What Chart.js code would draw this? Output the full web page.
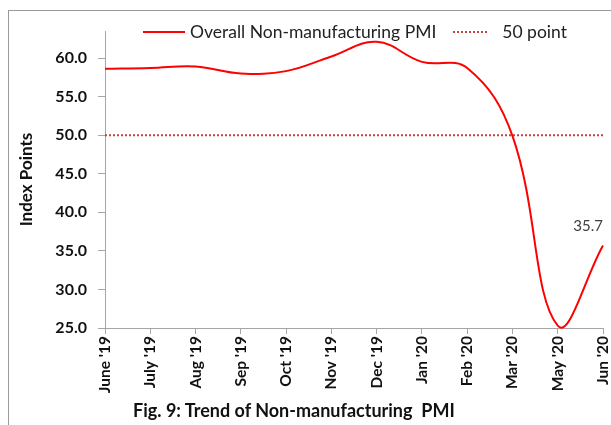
<!DOCTYPE html>
<html>
<head>
<meta charset="utf-8">
<script src="https://cdn.jsdelivr.net/npm/chart.js@4/dist/chart.umd.min.js"></script>
<style>
  body { margin: 0; background: #fff; font-family: Lato, "Open Sans", sans-serif; }
  #wrap { position: relative; width: 611px; height: 425px; overflow: hidden; }
  #frame { position: absolute; left: 8px; top: 10px; right: -10px; bottom: -10px;
           border-left: 1.5px solid #9a9a9a; border-top: 1.5px solid #9a9a9a; }
  canvas { position: absolute; left: 0; top: 0; }
  .legend { position: absolute; top: 19px; left: 143px; font-size: 17.5px; color: #222;
            white-space: nowrap; line-height: 22px; }
  .legend span { display: inline-block; vertical-align: middle; }
  .sample { width: 42px; height: 0; margin-right: 5px; }
  .solid { border-top: 2px solid #ff0000; }
  .dotted { border-top: 2px dotted #c8403c; width: 34px; margin-left: 17px; margin-right: 15px; }
  .caption { position: absolute; top: 399px; left: 133px; font-size: 18px; font-weight: bold;
             color: #111; white-space: pre; }
</style>
</head>
<body>
<div id="wrap">
  <div id="frame"></div>
  <canvas id="chart" width="611" height="425"></canvas>
  <div class="legend">
    <span class="sample solid"></span><span>Overall Non-manufacturing PMI</span><span class="sample dotted"></span><span>50 point</span>
  </div>
  <div class="caption">Fig. 9: Trend of Non-manufacturing  PMI</div>
</div>
<script>
const months = ["June '19", "July '19", "Aug '19", "Sep '19", "Oct '19", "Nov '19",
                "Dec '19", "Jan '20", "Feb '20", "Mar '20", "May '20", "Jun '20"]
const pmi = [58.6, 58.7, 58.9, 58.0, 58.3, 60.2, 62.1, 59.5, 58.7, 49.9, 25.3, 35.7]
const fiftyPoint = [50, 50, 50, 50, 50, 50, 50, 50, 50, 50, 50, 50]
const yTicks = [25, 30, 35, 40, 45, 50, 55, 60]

const axisGray = "#a6a6a6"

// label on the last point only
const lastLabel = {
    id: "lastLabel",
    afterDatasetsDraw(chart) {
        const meta = chart.getDatasetMeta(0)
        const pt = meta.data[meta.data.length - 1]
        const ctx = chart.ctx
        ctx.save()
        ctx.font = "15px Lato, sans-serif"
        ctx.fillStyle = "#404040"
        ctx.textAlign = "right"
        ctx.textBaseline = "middle"
        ctx.fillText(pmi[pmi.length - 1].toFixed(1), pt.x, pt.y - 19)
        ctx.restore()
    },
}

new Chart(document.getElementById("chart"), {
    type: "line",
    data: {
        labels: months,
        datasets: [
            {
                label: "Overall Non-manufacturing PMI",
                data: pmi,
                borderColor: "#ff0000",
                borderWidth: 2,
                pointRadius: 0,
                tension: 0.4,
                capBezierPoints: false,
                fill: false,
            },
            {
                label: "50 point",
                data: fiftyPoint,
                borderColor: "#c8403c",
                borderWidth: 2,
                borderDash: [2, 2],
                pointRadius: 0,
                tension: 0,
                fill: false,
            },
        ],
    },
    plugins: [lastLabel],
    options: {
        responsive: false,
        animation: false,
        clip: false,
        layout: { padding: { top: 31, right: 8, left: 0, bottom: 0 } },
        plugins: {
            legend: { display: false },
            tooltip: { enabled: false },
        },
        scales: {
            x: {
                offset: false,
                afterFit: (scale) => {
                    scale.height = 97
                    scale.paddingLeft = 0
                    scale.paddingRight = 0
                },
                border: { color: axisGray, width: 1 },
                grid: { drawOnChartArea: false, tickLength: 6, color: axisGray },
                ticks: {
                    maxRotation: 90,
                    minRotation: 90,
                    autoSkip: false,
                    padding: 2,
                    color: "#111",
                    font: { family: "Lato", size: 15.5, weight: "bold" },
                },
            },
            y: {
                min: 25,
                max: 63.5,
                afterFit: (scale) => {
                    scale.width = 105
                    scale.paddingTop = 0
                    scale.paddingBottom = 0
                },
                afterBuildTicks: (scale) => { scale.ticks = yTicks.map((v) => ({ value: v })) },
                border: { color: axisGray, width: 1 },
                grid: { drawOnChartArea: false, tickLength: 7, color: axisGray },
                title: {
                    display: true,
                    text: "Index Points",
                    color: "#111",
                    padding: { top: 16, bottom: 0 },
                    font: { family: "Lato", size: 17, weight: "bold" },
                },
                ticks: {
                    padding: 11,
                    color: "#111",
                    font: { family: "Lato", size: 16, weight: "bold" },
                    callback: (v) => Number(v).toFixed(1),
                },
            },
        },
    },
})
</script>
</body>
</html>
